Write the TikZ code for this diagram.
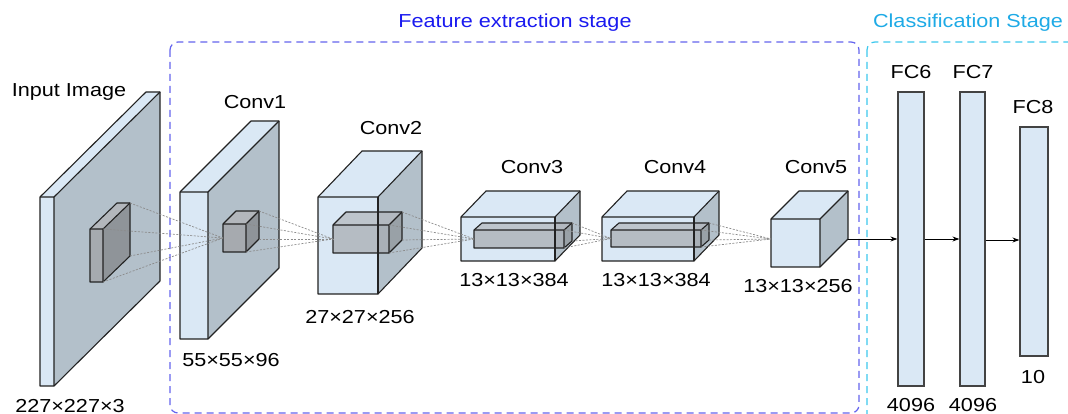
\documentclass[tikz,border=0pt]{standalone}
\usepackage{fontspec}
\setmainfont{Liberation Sans}[FakeStretch=1.15]
\usetikzlibrary{calc,arrows.meta}
\definecolor{lb}{HTML}{DAE8F5}
\definecolor{sg}{HTML}{B3C0CA}
\definecolor{cf}{HTML}{A6AAAF}
\definecolor{cs}{HTML}{8F9499}
\definecolor{ct}{HTML}{B3B7BC}
\definecolor{edgec}{HTML}{222222}
\definecolor{featblue}{HTML}{1A1AF0}
\definecolor{featdash}{HTML}{6464EE}
\definecolor{clstext}{HTML}{1EAAE6}
\definecolor{clsdash}{HTML}{3CC8EE}
\newcommand\cuboid[9]{%
  \coordinate (#1-ftl) at (#2,#3);
  \coordinate (#1-ftr) at (#4,#3);
  \coordinate (#1-fbr) at (#4,#5);
  \coordinate (#1-fbl) at (#2,#5);
  \coordinate (#1-btl) at ($(#1-ftl)+(#6,#7)$);
  \coordinate (#1-btr) at ($(#1-ftr)+(#6,#7)$);
  \coordinate (#1-bbr) at ($(#1-fbr)+(#6,#7)$);
  \fill[#8top,#9] (#1-ftl) -- (#1-ftr) -- (#1-btr) -- (#1-btl) -- cycle;
  \fill[#8side,#9] (#1-ftr) -- (#1-btr) -- (#1-bbr) -- (#1-fbr) -- cycle;
  \fill[#8front,#9] (#1-ftl) rectangle (#1-fbr);
  \draw[edge] (#1-fbl) -- (#1-ftl) -- (#1-btl) -- (#1-btr) -- (#1-bbr) -- (#1-fbr) -- cycle;
  \draw[edge] (#1-ftl) -- (#1-ftr) -- (#1-fbr) (#1-ftr) -- (#1-btr);
}
\tikzset{
  bluetop/.style={fill=lb}, blueside/.style={fill=sg}, bluefront/.style={fill=lb},
  graytop/.style={fill=ct}, grayside/.style={fill=cs}, grayfront/.style={fill=cf},
  edge/.style={draw=edgec, line width=1.1pt, line join=round},
  conn/.style={draw=gray!90, line width=0.7pt, dash pattern=on 2pt off 1.5pt},
  lbl/.style={font=\fontsize{18.8}{22}\selectfont, anchor=base, inner sep=0pt},
  fcbox/.style={draw=edgec!85, fill=lb, line width=1.2pt, minimum width=26pt, inner sep=0pt},
  arr/.style={draw=black, line width=1pt, -{Stealth[length=7pt,width=5pt]}},
  stagebox/.style={line width=1.2pt, dash pattern=on 7pt off 5pt, rounded corners=8pt}
}
\begin{document}
\begin{tikzpicture}[x=1pt,y=-1pt]
\clip (0,0) rectangle (1068,414);
\fill[white] (0,0) rectangle (1068,414);
% stage boxes
\draw[stagebox, draw=featdash] (170,42) rectangle (859,413);
\draw[stagebox, draw=clsdash] (867,42) rectangle (1090,440);
\node[lbl, text=featblue] (tfeat) at (515,28) {Feature extraction stage};
\node[lbl, text=clstext] (tcls) at (968,28) {Classification Stage};
% input image
\cuboid{in}{40}{197}{54}{386}{106}{-105}{blue}{}
\cuboid{ins}{90}{229}{103}{282}{27}{-26}{gray}{}
% conv1
\cuboid{c1}{180}{192}{208}{339}{71}{-71}{blue}{}
\cuboid{c1s}{223}{224}{246}{252}{13}{-13}{gray}{}
% conv2
\cuboid{c2}{318}{197}{378}{294}{44}{-46}{blue}{}
\cuboid{c2s}{333}{225}{389}{253}{13}{-13}{gray}{fill opacity=0.7}
\draw[edge] (c2-ftr) -- (c2-fbr);
% conv3
\cuboid{c3}{461}{217}{555}{261}{25}{-26}{blue}{}
\cuboid{c3s}{474}{230}{564}{248}{8}{-7}{gray}{fill opacity=0.7}
\draw[edge] (c3-ftr) -- (c3-fbr);
% conv4
\cuboid{c4}{602}{217}{694}{261}{25}{-26}{blue}{}
\cuboid{c4s}{611}{230}{701}{247}{8}{-7}{gray}{fill opacity=0.7}
\draw[edge] (c4-ftr) -- (c4-fbr);
% conv5
\cuboid{c5}{771}{219}{820}{267}{28}{-28}{blue}{}
% convergence points
\coordinate (t1) at ($(c1s-ftl)!0.5!(c1s-fbl)$);
\coordinate (t2) at ($(c2s-ftl)!0.5!(c2s-fbl)$);
\coordinate (t3) at ($(c3s-ftl)!0.5!(c3s-fbl)$);
\coordinate (t4) at ($(c4s-ftl)!0.5!(c4s-fbl)$);
\coordinate (t5) at ($(c5-ftl)+(0,20)$);
\foreach \c in {ftr,btr,bbr,fbr}{
  \draw[conn] (ins-\c) -- (t1);
  \draw[conn] (c1s-\c) -- (t2);
  \draw[conn] (c2s-\c) -- (t3);
  \draw[conn] (c3s-\c) -- (t4);
  \draw[conn] (c4s-\c) -- (t5);
}
% FC layers
\node[fcbox, minimum height=294pt] (fc6) at (911,239) {};
\node[fcbox, minimum height=294pt, minimum width=25pt] (fc7) at (972.5,239) {};
\node[fcbox, minimum height=229pt, minimum width=28pt] (fc8) at (1034,241.5) {};
\draw[arr] (c5-bbr) -- (fc6.west);
\draw[arr] (fc6.east) -- (fc7.west);
\draw[arr] (fc7.east |- 0,240) -- (fc8.west |- 0,240);
% labels
\node[lbl] (lin) at (69,97) {Input Image};
\node[lbl] (lin2) at (70,412) {227×227×3};
\node[lbl] (l1) at (255,109) {Conv1};
\node[lbl] (l1b) at (231,366) {55×55×96};
\node[lbl] (l2) at (391,135) {Conv2};
\node[lbl] (l2b) at (360,323) {27×27×256};
\node[lbl] (l3) at (532,174) {Conv3};
\node[lbl] (l3b) at (514,286) {13×13×384};
\node[lbl] (l4) at (675,174) {Conv4};
\node[lbl] (l4b) at (656,286) {13×13×384};
\node[lbl] (l5) at (816,174) {Conv5};
\node[lbl] (l5b) at (798,292) {13×13×256};
\node[lbl] (lf6) at (911,79) {FC6};
\node[lbl] (lf7) at (973,79) {FC7};
\node[lbl] (lf8) at (1033,114) {FC8};
\node[lbl] (lf6b) at (911,411) {4096};
\node[lbl] (lf7b) at (973,411) {4096};
\node[lbl] (lf8b) at (1033,383) {10};
\end{tikzpicture}
\end{document}
